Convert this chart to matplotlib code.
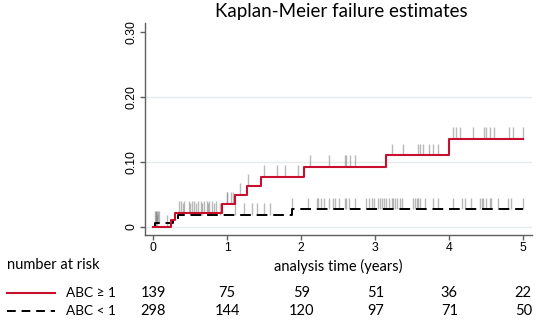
import numpy as np
import matplotlib
matplotlib.use("Agg")
import matplotlib.pyplot as plt
import matplotlib.transforms as mtransforms

# Kaplan-Meier failure curves (step times and cumulative failure)
red_t = [0, 0.235, 0.293, 0.93, 1.10, 1.27, 1.46, 2.04, 3.15, 4.0, 5.0]
red_f = [0, 0.011, 0.022, 0.035, 0.049, 0.063, 0.077, 0.092, 0.110, 0.135, 0.135]
black_t = [0, 0.02, 0.27, 0.33, 1.87, 5.0]
black_f = [0, 0.006, 0.012, 0.018, 0.027, 0.027]

# censoring times
red_cens = [0.03, 0.05, 0.18, 0.35, 0.38, 0.42, 0.48, 0.52, 0.55, 0.60, 0.64,
            0.68, 0.72, 0.75, 0.80, 0.85, 0.99, 1.00, 1.05, 1.08, 1.17, 1.28,
            1.50, 1.67, 1.78, 1.96, 2.12, 2.38, 2.59, 2.61, 2.66, 2.73,
            3.22, 3.37, 3.58, 3.60, 3.64, 3.72, 3.78, 3.85,
            4.05, 4.09, 4.14, 4.32, 4.47, 4.50, 4.55, 4.60, 4.81, 4.86, 5.0]
black_cens = [0.02, 0.03, 0.04, 0.05, 0.06, 0.08, 0.40, 0.50, 0.58, 0.66,
              0.74, 0.82, 0.90, 1.10, 1.22, 1.33, 1.40, 1.49, 1.58,
              1.88, 2.09, 2.21, 2.23, 2.27, 2.31, 2.38, 2.43, 2.45, 2.51,
              2.59, 2.61, 2.64, 2.73, 2.87, 2.92, 2.95, 2.98, 3.04, 3.06,
              3.09, 3.12, 3.15, 3.19, 3.22, 3.24, 3.27, 3.30, 3.33, 3.36,
              3.51, 3.54, 3.56, 3.58, 3.60, 3.67, 3.78, 3.85, 4.05, 4.17,
              4.21, 4.30, 4.41, 4.44, 4.46, 4.50, 4.55, 4.57, 4.66, 4.80,
              4.84, 4.99]

# number at risk table
risk_times = [0, 1, 2, 3, 4, 5]
risk_red = [139, 75, 59, 51, 36, 22]
risk_black = [298, 144, 120, 97, 71, 50]

RED = "#c8102e"
AXC = "#5f5f5f"
GRID = "#e4ecef"
txt_font = ["Lato", "DejaVu Sans"]
num_font = ["Liberation Sans", "DejaVu Sans"]

W, H = 536, 321
fig = plt.figure(figsize=(W / 100, H / 100), dpi=100)
ax = fig.add_axes([145 / W, 1 - 234.5 / H, (532 - 145) / W, (234.5 - 23) / H])


def step_at(t_steps, f_steps, t):
    idx = np.searchsorted(t_steps, t, side="right") - 1
    return np.asarray(f_steps)[np.clip(idx, 0, len(f_steps) - 1)]


tick_h = 0.018
for ct, ts, fs in ((black_cens, black_t, black_f), (red_cens, red_t, red_f)):
    base = step_at(ts, fs, ct)
    ax.vlines(ct, base, base + tick_h, color="0.5", alpha=0.55, lw=1.0, zorder=2)

ax.plot(black_t, black_f, drawstyle="steps-post", color="black", lw=1.4,
        dashes=(5.5, 3), zorder=3)
ax.plot(red_t, red_f, drawstyle="steps-post", color=RED, lw=1.5, zorder=4)

for g in (0, 0.1, 0.2):
    ax.axhline(g, color=GRID, lw=1.0, zorder=1)

ax.set_xlim(-0.112, 5.118)
ax.set_ylim(-0.0118, 0.3134)
ax.set_xticks(risk_times)
ax.set_yticks([0, 0.1, 0.2, 0.3])
ax.set_yticklabels(["0", "0.10", "0.20", "0.30"], rotation=90, va="center")
for lab in ax.get_xticklabels() + ax.get_yticklabels():
    lab.set_fontfamily(num_font)
    lab.set_fontsize(8.8)
ax.tick_params(colors="black", length=3.5, width=1, pad=2)
ax.tick_params(axis="both", color=AXC)
for s in ("top", "right"):
    ax.spines[s].set_visible(False)
for s in ("left", "bottom"):
    ax.spines[s].set_color(AXC)
    ax.spines[s].set_linewidth(1.0)

fig.text(341 / W, 1 - 12 / H, "Kaplan-Meier failure estimates", ha="center",
         va="center", fontsize=13.5, family=txt_font)
fig.text(7 / W, 1 - 265 / H, "number at risk", ha="left", va="center",
         fontsize=10.5, family=txt_font)
fig.text(338 / W, 1 - 266 / H, "analysis time (years)", ha="center",
         va="center", fontsize=10.5, family=txt_font)

row_y = [1 - 293 / H, 1 - 311 / H]
fig.add_artist(plt.Line2D([7 / W, 55 / W], [row_y[0]] * 2, color=RED, lw=1.5))
fig.add_artist(plt.Line2D([7 / W, 55 / W], [row_y[1]] * 2, color="black",
                          lw=1.4, dashes=(4.5, 3)))
fig.text(66 / W, row_y[0], "ABC \u2265 1", ha="left", va="center",
         fontsize=9.8, family=txt_font)
fig.text(66 / W, row_y[1], "ABC < 1", ha="left", va="center",
         fontsize=9.8, family=txt_font)

trans = mtransforms.blended_transform_factory(ax.transData, fig.transFigure)
for t, a, b in zip(risk_times, risk_red, risk_black):
    fig.text(t, row_y[0], str(a), transform=trans, ha="center", va="center",
             fontsize=10.5, family=txt_font)
    fig.text(t, row_y[1], str(b), transform=trans, ha="center", va="center",
             fontsize=10.5, family=txt_font)

fig.savefig("out.png", dpi=100)
